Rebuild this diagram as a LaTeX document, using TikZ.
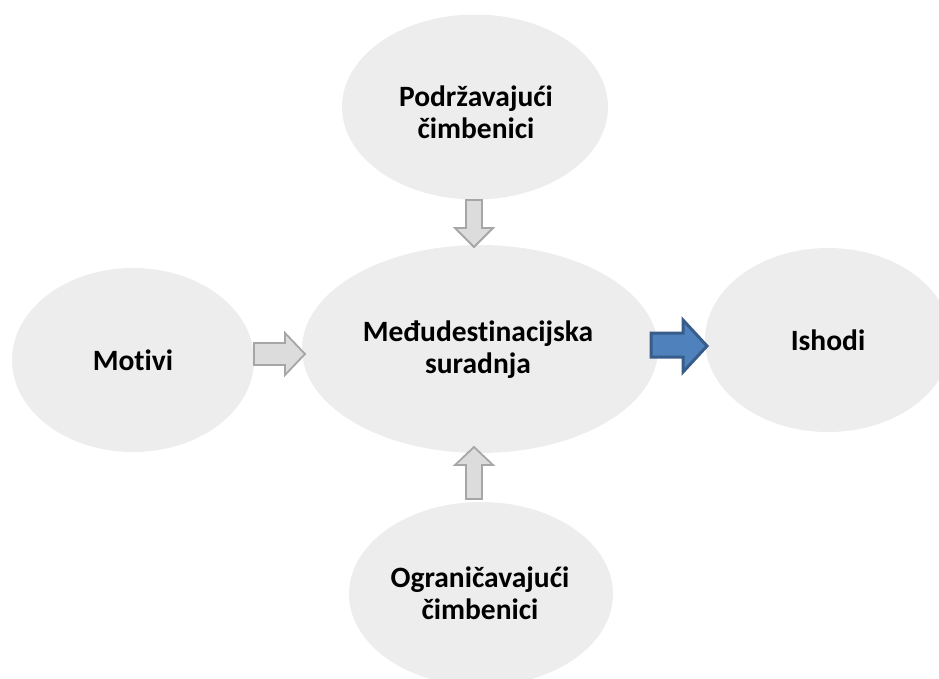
\documentclass[tikz,border=0pt]{standalone}
\usepackage{fontspec}
\setmainfont{Carlito}[RawFeature={-liga}]
\usetikzlibrary{shapes.geometric}
\definecolor{ellfill}{HTML}{EDEDED}
\definecolor{arrfill}{HTML}{DCDCDC}
\definecolor{arrline}{HTML}{A6A6A6}
\definecolor{bluefill}{HTML}{4F81BD}
\definecolor{blueline}{HTML}{385D8A}
\tikzset{
  bubble/.style={ellipse, fill=ellfill, draw=none, inner sep=0pt, align=center,
    font=\fontsize{29.5}{32}\selectfont\bfseries},
  lbl/.style={inner sep=0pt, align=center, font=\fontsize{29.5}{32}\selectfont\bfseries},
  grayarrow/.style={fill=arrfill, draw=arrline, line width=1.8pt, line join=miter},
  bluearrow/.style={fill=bluefill, draw=blueline, line width=3pt, line join=miter},
}
\begin{document}
\begin{tikzpicture}[x=1pt,y=-1pt]
\useasboundingbox (0,0) rectangle (939,678);
\node[bubble, minimum width=266pt, minimum height=185pt] (top) at (475,107) {};
\node[lbl] (toptext) at (476,112) {Podržavajući\\čimbenici};
\node[bubble, minimum width=356pt, minimum height=208pt] (mid) at (480,349) {};
\node[lbl] (midtext) at (478,350) {Međudestinacijska\\suradnja};
\node[bubble, minimum width=242pt, minimum height=184pt] (left) at (133,360) {Motivi};
\node[bubble, minimum width=246pt, minimum height=184pt] (right) at (828,340) {Ishodi};
\node[bubble, minimum width=264pt, minimum height=184pt] (bot) at (481,594) {};
\node[lbl] (bottext) at (480,593) {Ograničavajući\\čimbenici};
% arrows
\draw[grayarrow] (466,200) -- (482,200) -- (482,228) -- (493,228) -- (474,247) -- (455,228) -- (466,228) -- cycle;
\draw[grayarrow] (466,499) -- (482,499) -- (482,465) -- (493,465) -- (474,447) -- (455,465) -- (466,465) -- cycle;
\draw[grayarrow] (254,343) -- (285,343) -- (285,333) -- (305,354) -- (285,375) -- (285,365) -- (254,365) -- cycle;
\draw[bluearrow] (651,333) -- (683,333) -- (683,320) -- (707,346) -- (683,372) -- (683,357) -- (651,357) -- cycle;
\end{tikzpicture}
\end{document}
